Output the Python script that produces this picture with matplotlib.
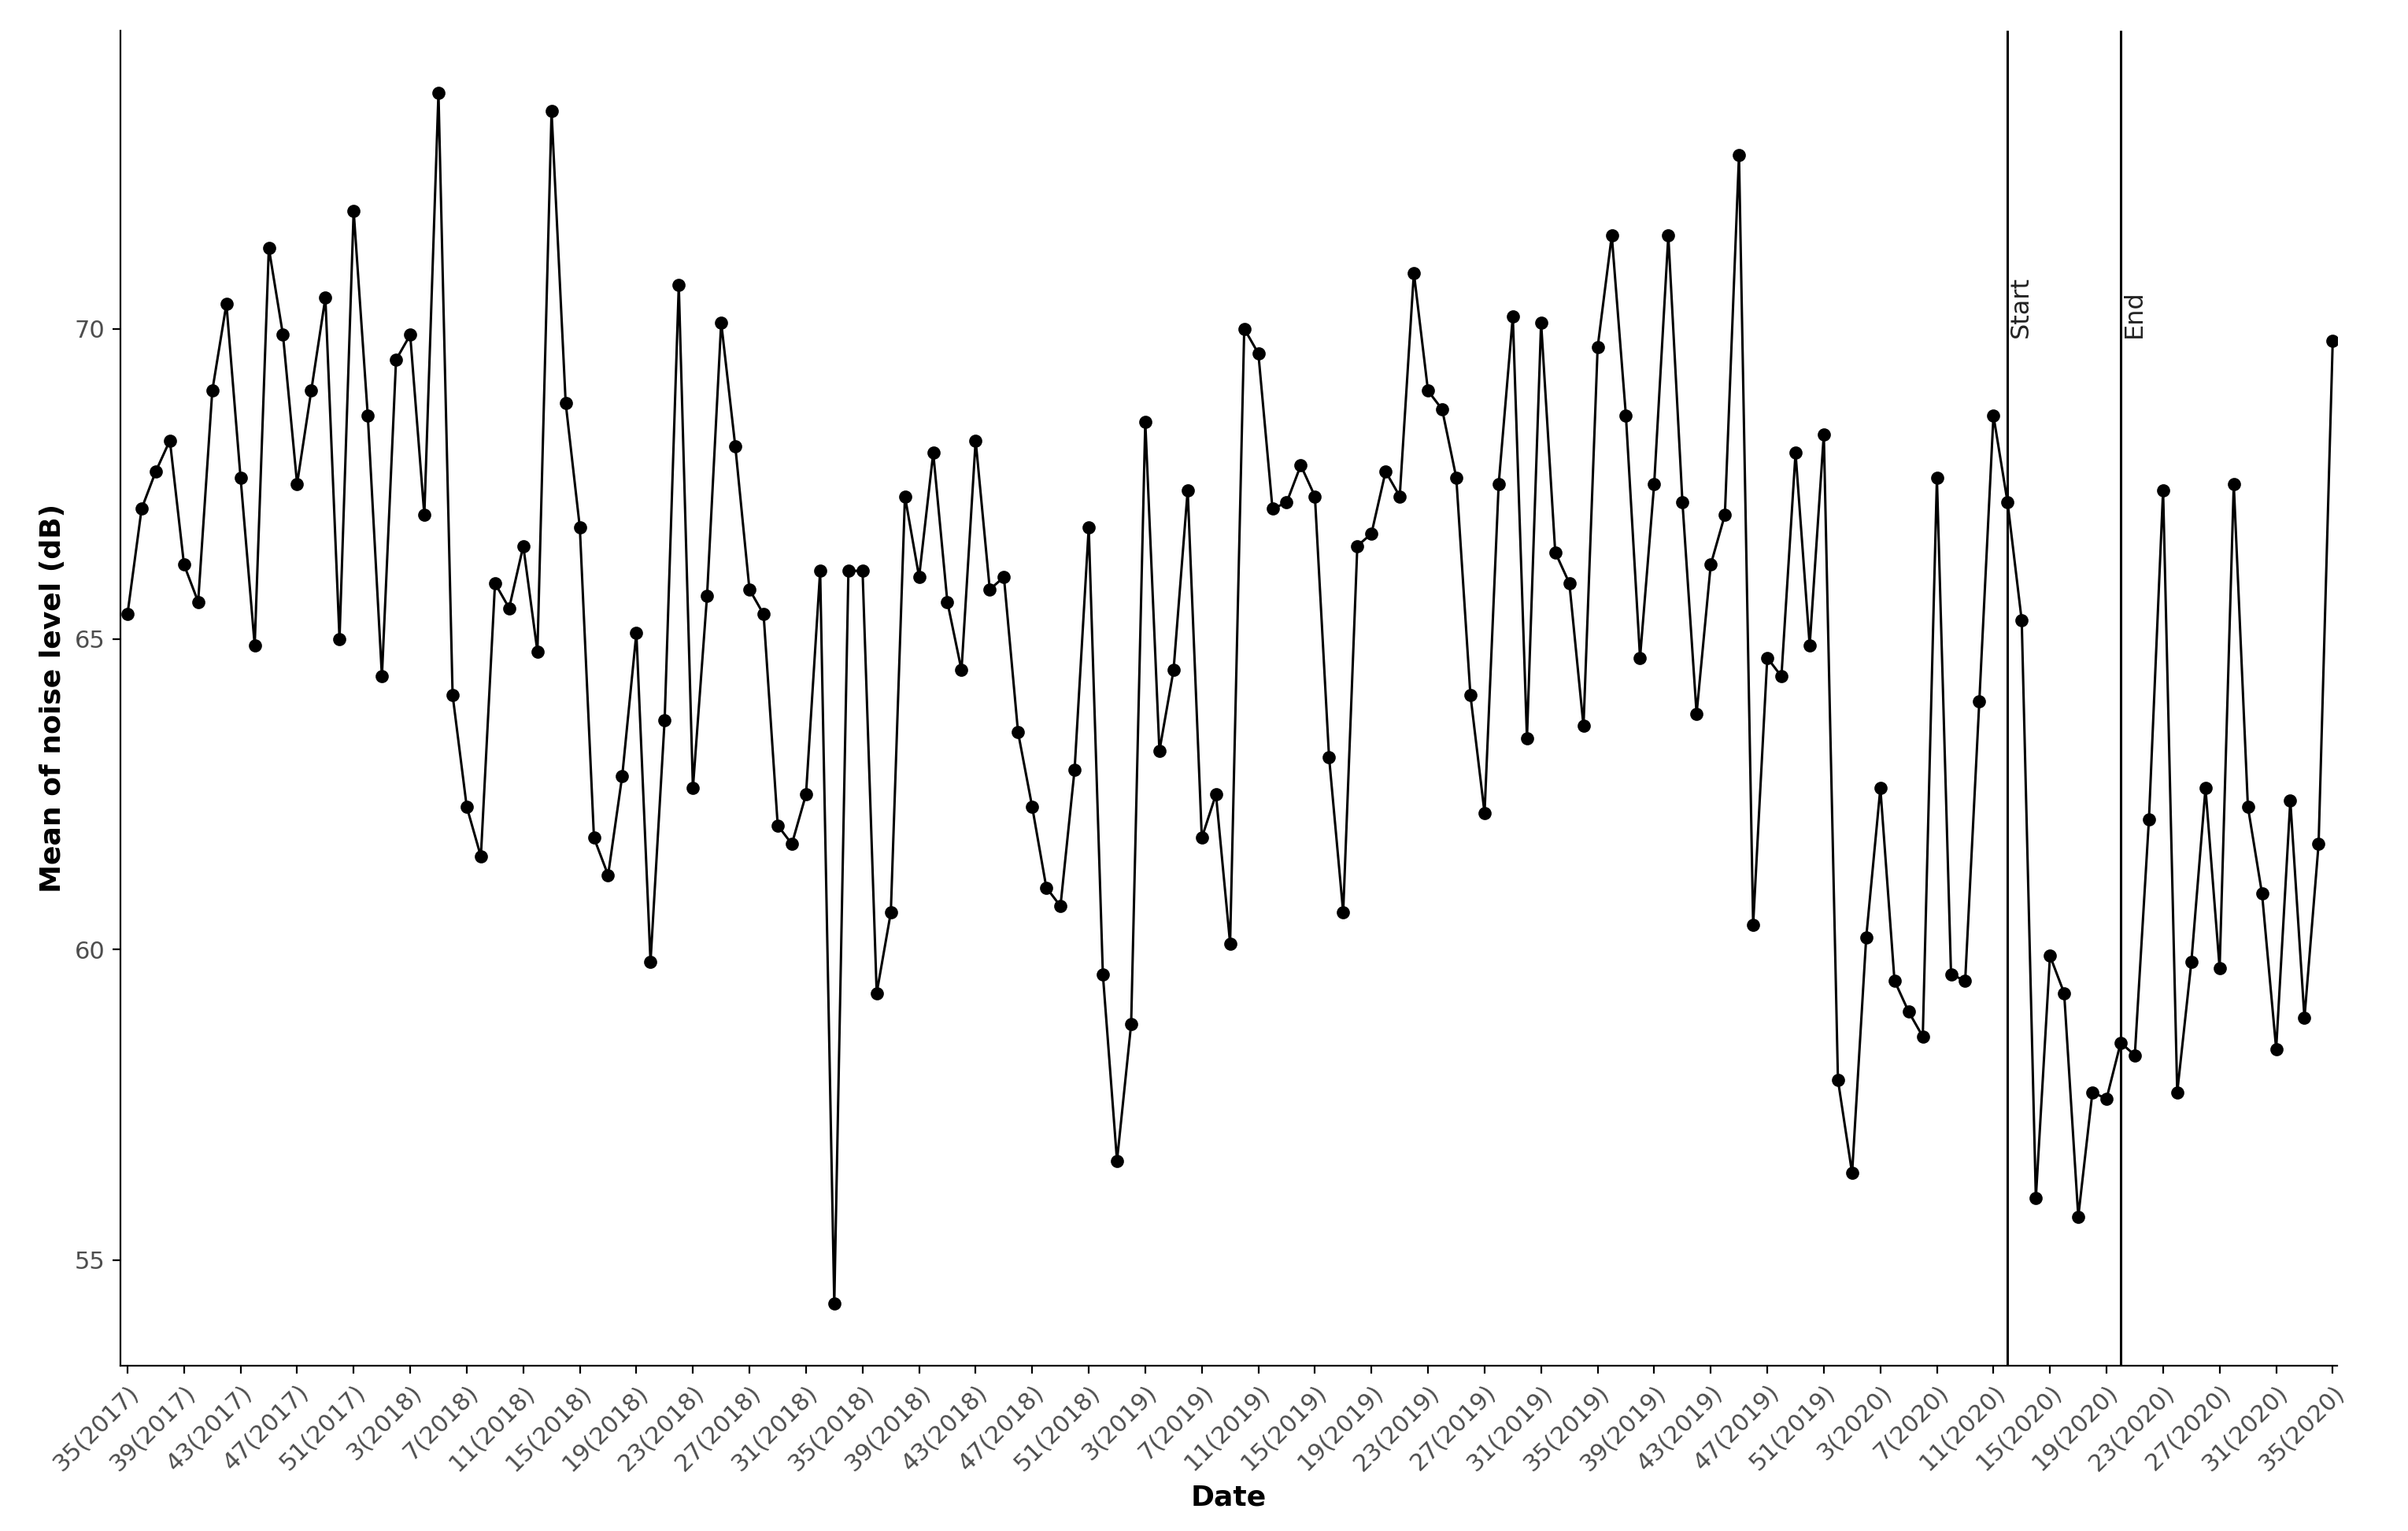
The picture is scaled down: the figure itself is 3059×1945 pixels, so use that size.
import numpy as np
import matplotlib.pyplot as plt

noise = [65.4, 67.1, 67.7, 68.2, 66.2, 65.6, 69.0, 70.4, 67.6, 64.9,
         71.3, 69.9, 67.5, 69.0, 70.5, 65.0, 71.9, 68.6, 64.4, 69.5,
         69.9, 67.0, 73.8, 64.1, 62.3, 61.5, 65.9, 65.5, 66.5, 64.8,
         73.5, 68.8, 66.8, 61.8, 61.2, 62.8, 65.1, 59.8, 63.7, 70.7,
         62.6, 65.7, 70.1, 68.1, 65.8, 65.4, 62.0, 61.7, 62.5, 66.1,
         54.3, 66.1, 66.1, 59.3, 60.6, 67.3, 66.0, 68.0, 65.6, 64.5,
         68.2, 65.8, 66.0, 63.5, 62.3, 61.0, 60.7, 62.9, 66.8, 59.6,
         56.6, 58.8, 68.5, 63.2, 64.5, 67.4, 61.8, 62.5, 60.1, 70.0,
         69.6, 67.1, 67.2, 67.8, 67.3, 63.1, 60.6, 66.5, 66.7, 67.7,
         67.3, 70.9, 69.0, 68.7, 67.6, 64.1, 62.2, 67.5, 70.2, 63.4,
         70.1, 66.4, 65.9, 63.6, 69.7, 71.5, 68.6, 64.7, 67.5, 71.5,
         67.2, 63.8, 66.2, 67.0, 72.8, 60.4, 64.7, 64.4, 68.0, 64.9,
         68.3, 57.9, 56.4, 60.2, 62.6, 59.5, 59.0, 58.6, 67.6, 59.6,
         59.5, 64.0, 68.6, 67.2, 65.3, 56.0, 59.9, 59.3, 55.7, 57.7,
         57.6, 58.5, 58.3, 62.1, 67.4, 57.7, 59.8, 62.6, 59.7, 67.5,
         62.3, 60.9, 58.4, 62.4, 58.9, 61.7, 69.8]

# week/year labels starting at week 35 of 2017, 52 weeks per year
weeks = []
w, y = 35, 2017
for i in range(len(noise)):
    weeks.append('%d(%d)' % (w, y))
    w += 1
    if w > 52:
        w, y = 1, y + 1

start_idx = 133
end_idx = 141

x = np.arange(len(noise))

fig = plt.figure(figsize=(15.295, 9.725), dpi=200)
ax = fig.add_axes([0.05, 0.108, 0.9205, 0.872])
ax.plot(x, noise, color='black', linewidth=1.1, marker='o', markersize=5)
ax.axvline(start_idx, color='black', linewidth=1.1)
ax.axvline(end_idx, color='black', linewidth=1.1)
ax.text(start_idx + 0.1, 69.85, 'Start', rotation=90, va='bottom', ha='left', fontsize=11.5, color='#222222')
ax.text(end_idx + 0.1, 69.85, 'End', rotation=90, va='bottom', ha='left', fontsize=11.5, color='#222222')

ax.set_xlim(-0.5, 156.3)
ax.set_ylim(53.3, 74.8)
ax.set_xticks(x[::4])
ax.set_xticklabels(weeks[::4], rotation=45, ha='right', rotation_mode='anchor', fontsize=11, color='#4d4d4d')
ax.set_yticks([55, 60, 65, 70])
ax.tick_params(axis='y', labelsize=11, labelcolor='#4d4d4d')
ax.set_xlabel('Date', fontsize=13, fontweight='bold')
ax.set_ylabel('Mean of noise level (dB)', fontsize=13, fontweight='bold')
ax.spines['top'].set_visible(False)
ax.spines['right'].set_visible(False)

fig.savefig('out.png', dpi=200)
